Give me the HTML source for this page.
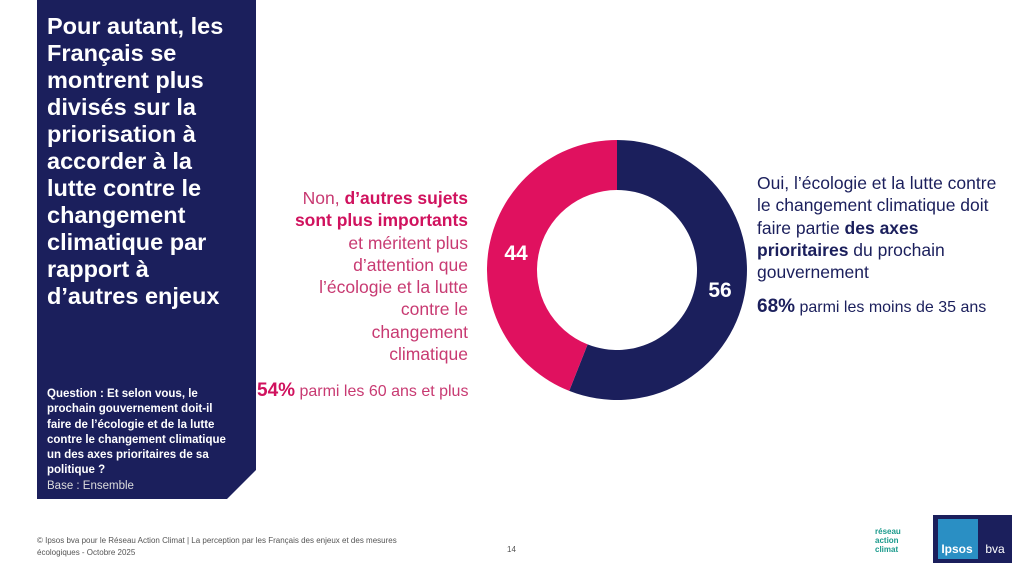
<!DOCTYPE html>
<html><head><meta charset="utf-8"><style>
*{margin:0;padding:0;box-sizing:border-box}
body{width:1024px;height:576px;background:#fff;position:relative;overflow:hidden;font-family:"Liberation Sans",sans-serif}
.panel{position:absolute;left:37px;top:0;width:219px;height:499px;background:#1b1f5c;clip-path:polygon(0 0,100% 0,100% 470px,190px 100%,0 100%)}
.title{position:absolute;left:47px;top:13px;width:215px;color:#fff;font-weight:bold;font-size:23.5px;line-height:27px;white-space:nowrap}
.q{position:absolute;left:47px;top:387px;width:215px;color:#fff;font-weight:bold;font-size:11.5px;line-height:15.3px;white-space:nowrap}
.q span{font-weight:normal;color:#ddd}
.pink{position:absolute;right:556px;top:187px;width:260px;text-align:right;color:#c83a72;font-size:17.5px;line-height:22.3px;white-space:nowrap}
.pink b{color:#d0125e}
.pk2{position:absolute;left:257px;top:380px;color:#c83a72;font-size:16px}
.pk2 b{color:#d0125e}
.right{position:absolute;left:757px;top:172px;width:265px;color:#1b1f5c;font-size:17.5px;line-height:22.3px;white-space:nowrap}
.r2{position:absolute;left:757px;top:296px;color:#1b1f5c;font-size:16px}
.foot{position:absolute;left:37px;top:535px;font-size:8px;color:#555;line-height:12px}
.pg{position:absolute;left:507px;top:545px;font-size:8px;color:#555}
</style></head><body>
<div class="panel"></div>
<div class="title">Pour autant, les<br>Français se<br>montrent plus<br>divisés sur la<br>priorisation à<br>accorder à la<br>lutte contre le<br>changement<br>climatique par<br>rapport à<br>d’autres enjeux</div>
<div class="q">Question : Et selon vous, le<br>prochain gouvernement doit-il<br>faire de l’écologie et de la lutte<br>contre le changement climatique<br>un des axes prioritaires de sa<br>politique ?<br><span>Base : Ensemble</span></div>
<svg style="position:absolute;left:0;top:0" width="1024" height="576">
<path d="M617 140 A130 130 0 1 1 569.2 390.9 L587.6 344.4 A80 80 0 1 0 617 190 Z" fill="#1b1f5c"/>
<path d="M569.2 390.9 A130 130 0 0 1 617 140 L617 190 A80 80 0 0 0 587.6 344.4 Z" fill="#e0115f"/>
<text x="516" y="260" fill="#fff" font-size="21" font-weight="bold" text-anchor="middle" font-family="Liberation Sans">44</text>
<text x="720" y="297" fill="#fff" font-size="21" font-weight="bold" text-anchor="middle" font-family="Liberation Sans">56</text>
<rect x="933" y="515" width="79" height="48" fill="#1b1f5c"/>
<rect x="938" y="519" width="40" height="40" fill="#2a8fc4"/>
<text x="957" y="553" fill="#fff" font-size="12" font-weight="bold" text-anchor="middle" font-family="Liberation Sans">Ipsos</text>
<text x="995" y="553" fill="#fff" font-size="12" text-anchor="middle" font-family="Liberation Sans">bva</text>
<text x="875" y="534" fill="#1a9a8c" font-size="8" font-weight="bold" font-family="Liberation Sans">réseau</text>
<text x="875" y="543" fill="#1a9a8c" font-size="8" font-weight="bold" font-family="Liberation Sans">action</text>
<text x="875" y="552" fill="#1a9a8c" font-size="8" font-weight="bold" font-family="Liberation Sans">climat</text>
</svg>
<div class="pink">Non, <b>d’autres sujets</b><br><b>sont plus importants</b><br>et méritent plus<br>d’attention que<br>l’écologie et la lutte<br>contre le<br>changement<br>climatique</div>
<div class="pk2"><b style="font-size:19px">54%</b> parmi les 60 ans et plus</div>
<div class="right">Oui, l’écologie et la lutte contre<br>le changement climatique doit<br>faire partie <b>des axes</b><br><b>prioritaires</b> du prochain<br>gouvernement</div>
<div class="r2"><b style="font-size:19px">68%</b> parmi les moins de 35 ans</div>
<div class="foot">© Ipsos bva pour le Réseau Action Climat | La perception par les Français des enjeux et des mesures<br>écologiques - Octobre 2025</div>
<div class="pg">14</div>
</body></html>
